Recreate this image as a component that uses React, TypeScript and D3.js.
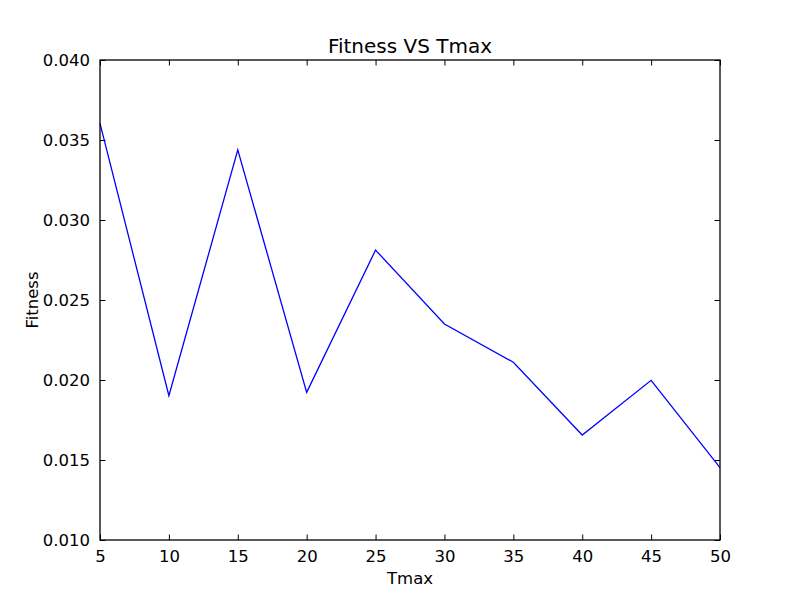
import React, { useRef, useEffect } from 'react'
import * as d3 from 'd3'

// Tmax values on the x axis
const tmax: number[] = [5, 10, 15, 20, 25, 30, 35, 40, 45, 50]
// Fitness
const fitness: number[] = [
  0.03604, 0.01902, 0.03438, 0.01923, 0.02812, 0.0235, 0.02111, 0.01656, 0.01998, 0.01452,
]
const xTicks: number[] = [5, 10, 15, 20, 25, 30, 35, 40, 45, 50]
const yTicks: number[] = [0.01, 0.015, 0.02, 0.025, 0.03, 0.035, 0.04]

const FONT = '"DejaVu Sans", sans-serif'

const App: React.FC = () => {
  const svgRef = useRef<SVGSVGElement | null>(null)

  useEffect(() => {
    const width = 800
    const height = 600
    const margin = { top: 60, right: 80, bottom: 60, left: 100 }

    const svg = d3.select(svgRef.current)
    svg.selectAll('*').remove()
    svg.attr('width', width).attr('height', height)

    svg.append('rect').attr('width', width).attr('height', height).attr('fill', '#fff')

    const x = d3.scaleLinear().domain([5, 50]).range([margin.left, width - margin.right])
    const y = d3.scaleLinear().domain([0.01, 0.04]).range([height - margin.bottom, margin.top])

    const tickLen = 5.5

    // axes with inward ticks (matplotlib classic style)
    const bottom = svg
      .append('g')
      .attr('transform', `translate(0,${height - margin.bottom})`)
      .call(d3.axisBottom(x).tickValues(xTicks).tickSizeInner(-tickLen).tickSizeOuter(0).tickPadding(10).tickFormat(d3.format('d')))
    const top = svg
      .append('g')
      .attr('transform', `translate(0,${margin.top})`)
      .call(d3.axisTop(x).tickValues(xTicks).tickSizeInner(-tickLen).tickSizeOuter(0).tickFormat(() => ''))
    const left = svg
      .append('g')
      .attr('transform', `translate(${margin.left},0)`)
      .call(d3.axisLeft(y).tickValues(yTicks).tickSizeInner(-tickLen).tickSizeOuter(0).tickPadding(10).tickFormat(d3.format('.3f')))
    const right = svg
      .append('g')
      .attr('transform', `translate(${width - margin.right},0)`)
      .call(d3.axisRight(y).tickValues(yTicks).tickSizeInner(-tickLen).tickSizeOuter(0).tickFormat(() => ''))

    for (const g of [bottom, top, left, right]) {
      g.select('.domain').remove()
      g.selectAll('line').attr('stroke', '#000').attr('stroke-width', 1)
      g.selectAll('text').attr('font-family', FONT).attr('font-size', 16.5).attr('fill', '#000')
    }

    // data line
    const line = d3
      .line<number>()
      .x((_, i) => x(tmax[i]))
      .y((d) => y(d))
    svg
      .append('path')
      .datum(fitness)
      .attr('d', line)
      .attr('fill', 'none')
      .attr('stroke', '#0000ff')
      .attr('stroke-width', 1.3)

    // frame
    svg
      .append('rect')
      .attr('x', margin.left)
      .attr('y', margin.top)
      .attr('width', width - margin.left - margin.right)
      .attr('height', height - margin.top - margin.bottom)
      .attr('fill', 'none')
      .attr('stroke', '#000')
      .attr('stroke-width', 1.3)

    // title and axis labels
    svg
      .append('text')
      .attr('x', (margin.left + width - margin.right) / 2)
      .attr('y', 53)
      .attr('text-anchor', 'middle')
      .attr('font-family', FONT)
      .attr('font-size', 20)
      .text('Fitness VS Tmax')
    svg
      .append('text')
      .attr('x', (margin.left + width - margin.right) / 2)
      .attr('y', 584)
      .attr('text-anchor', 'middle')
      .attr('font-family', FONT)
      .attr('font-size', 16.5)
      .text('Tmax')
    svg
      .append('text')
      .attr('transform', `translate(38,${(margin.top + height - margin.bottom) / 2}) rotate(-90)`)
      .attr('text-anchor', 'middle')
      .attr('font-family', FONT)
      .attr('font-size', 16.5)
      .text('Fitness')
  }, [])

  return <svg ref={svgRef} style={{ position: 'absolute', left: 0, top: 0 }}></svg>
}

export default App
